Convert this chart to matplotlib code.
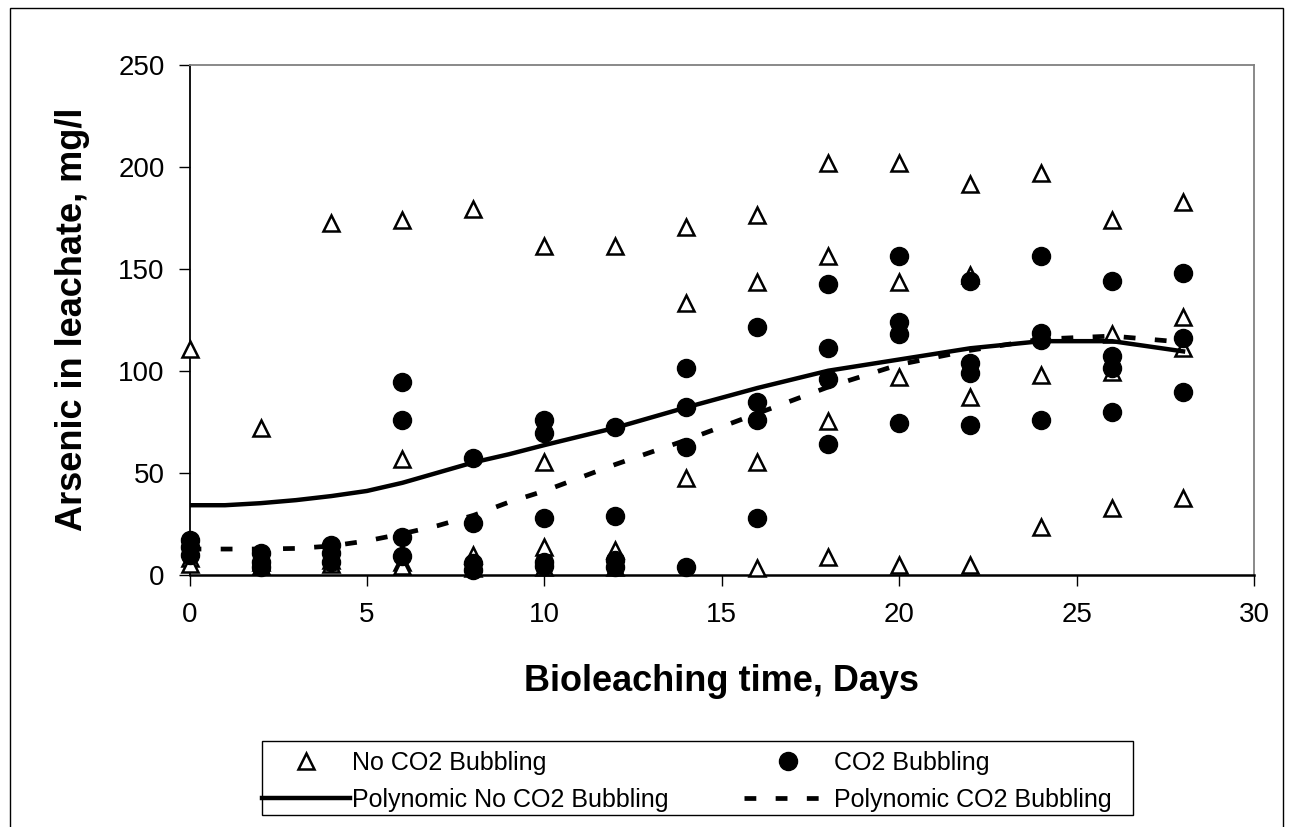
import matplotlib
matplotlib.use('Agg')
import matplotlib.pyplot as plt
from matplotlib.patches import Rectangle

plt.rcParams['font.family'] = ['Liberation Sans', 'DejaVu Sans']

# sampling days
days = [0, 2, 4, 6, 8, 10, 12, 14, 16, 18, 20, 22, 24, 26, 28]

# arsenic readings (mg/l) per day, no CO2 bubbling
no_co2 = [
    [110.6, 8, 5],
    [71.7, 6, 4],
    [172.6, 7, 5],
    [174, 56.5, 6, 4],
    [179.2, 9.6, 3],
    [161.2, 55.4, 13.6, 3.8],
    [161.2, 12, 3.5],
    [170.4, 133, 47.5],
    [176.4, 143.7, 55.4, 3],
    [201.8, 156.3, 75.5, 8.4],
    [201.8, 143.7, 97, 4.7],
    [191.6, 147, 87, 4.7],
    [196.9, 97.9, 23.5],
    [174, 117.8, 99.5, 32.5],
    [183, 126.2, 111, 37.7],
]

# arsenic readings (mg/l) per day, CO2 bubbling
co2 = [
    [17, 13.6, 9.6],
    [10.4, 6.3, 3.8],
    [14.5, 10.4, 6.3],
    [94.6, 75.8, 18.2, 9],
    [57, 25.1, 5.6, 2.2],
    [75.8, 69.3, 27.6, 6.3, 4],
    [72.2, 28.9, 7, 3.8],
    [101.2, 82, 62.7, 3.5],
    [121.3, 84.5, 75.8, 27.9],
    [142.5, 111, 95.8, 64],
    [156.4, 124, 117.8, 74.5],
    [144, 103.6, 98.7, 73.4],
    [156.4, 118.7, 115, 75.8],
    [144, 107.2, 101.2, 79.6],
    [147.8, 115.9, 89.7],
]

# polynomial trendlines
trend_days = [0, 1, 2, 3, 4, 5, 6, 7, 8, 9, 10, 12, 14, 16, 18, 20, 22, 24, 26, 28]
trend_no_co2 = [34, 34, 35, 36.5, 38.5, 41, 45, 50, 55, 59, 63.5, 72, 82, 91.5,
                100, 105.5, 111, 114.5, 114.5, 109.5]
trend_co2 = [12.5, 12.5, 12.5, 12.8, 14, 16.5, 20, 24, 29, 35.5, 41, 54, 66, 79,
             92, 103, 110, 115.5, 117, 114]

x_ticks = [0, 5, 10, 15, 20, 25, 30]
y_ticks = [0, 50, 100, 150, 200, 250]


def flatten(day_list, values):
    xs, ys = [], []
    for d, vals in zip(day_list, values):
        for v in vals:
            xs.append(d)
            ys.append(v)
    return xs, ys


fig = plt.figure(figsize=(12.92, 8.27), dpi=100)
ax = fig.add_axes([0.1467, 0.3053, 0.8239, 0.6161])

tx, ty = flatten(days, no_co2)
cx, cy = flatten(days, co2)

h_tri, = ax.plot(tx, ty, linestyle='none', marker='^', markersize=11.5,
                 markerfacecolor='white', markeredgecolor='black',
                 markeredgewidth=1.8, clip_on=False, zorder=3,
                 label='No CO2 Bubbling')
h_circ, = ax.plot(cx, cy, linestyle='none', marker='o', markersize=13,
                  markerfacecolor='black', markeredgecolor='black',
                  clip_on=False, zorder=4, label='CO2 Bubbling')
h_solid, = ax.plot(trend_days, trend_no_co2, color='black', linewidth=3.2,
                   zorder=5, label='Polynomic No CO2 Bubbling')
h_dash, = ax.plot(trend_days, trend_co2, color='black', linewidth=3.4,
                  linestyle=(0, (2.5, 4.1)), zorder=5,
                  label='Polynomic CO2 Bubbling')

ax.set_xlim(0, 30)
ax.set_ylim(0, 250)
ax.set_xticks(x_ticks)
ax.set_yticks(y_ticks)
ax.tick_params(axis='both', direction='out', length=8, width=1,
               labelsize=20, colors='black')
ax.tick_params(axis='x', pad=12)
ax.tick_params(axis='y', pad=10)

# Excel style plot area: black axes, grey frame on top and right
ax.spines['left'].set_linewidth(1.3)
ax.spines['bottom'].set_linewidth(1.8)
ax.spines['top'].set_color('#808080')
ax.spines['right'].set_color('#808080')
ax.spines['top'].set_linewidth(1.3)
ax.spines['right'].set_linewidth(1.3)

ax.set_xlabel('Bioleaching time, Days', fontsize=26, fontweight='bold',
              labelpad=26)
ax.set_ylabel('Arsenic in leachate, mg/l', fontsize=26, fontweight='bold',
              labelpad=20)

handles = [h_tri, h_solid, h_circ, h_dash]
leg = fig.legend(handles, [h.get_label() for h in handles],
                 ncol=2, loc='upper left',
                 bbox_to_anchor=(262 / 1292, 1 - 751 / 827),
                 bbox_transform=fig.transFigure, fontsize=18,
                 frameon=False, borderpad=0, borderaxespad=0,
                 handlelength=3.52, handletextpad=0.1, labelspacing=0.5,
                 columnspacing=3.0)

# legend box drawn separately to match the original size
fig.patches.append(Rectangle((262 / 1292, 1 - 815 / 827), 871 / 1292, 74 / 827,
                             fill=False, edgecolor='black', linewidth=1.0,
                             transform=fig.transFigure, figure=fig))

# outer chart border
fig.patches.append(Rectangle((0.0077, -0.01), 0.9853, 1.0003, fill=False,
                             edgecolor='black', linewidth=1.0,
                             transform=fig.transFigure, figure=fig))

fig.savefig('out.png', dpi=100)
plt.close(fig)
